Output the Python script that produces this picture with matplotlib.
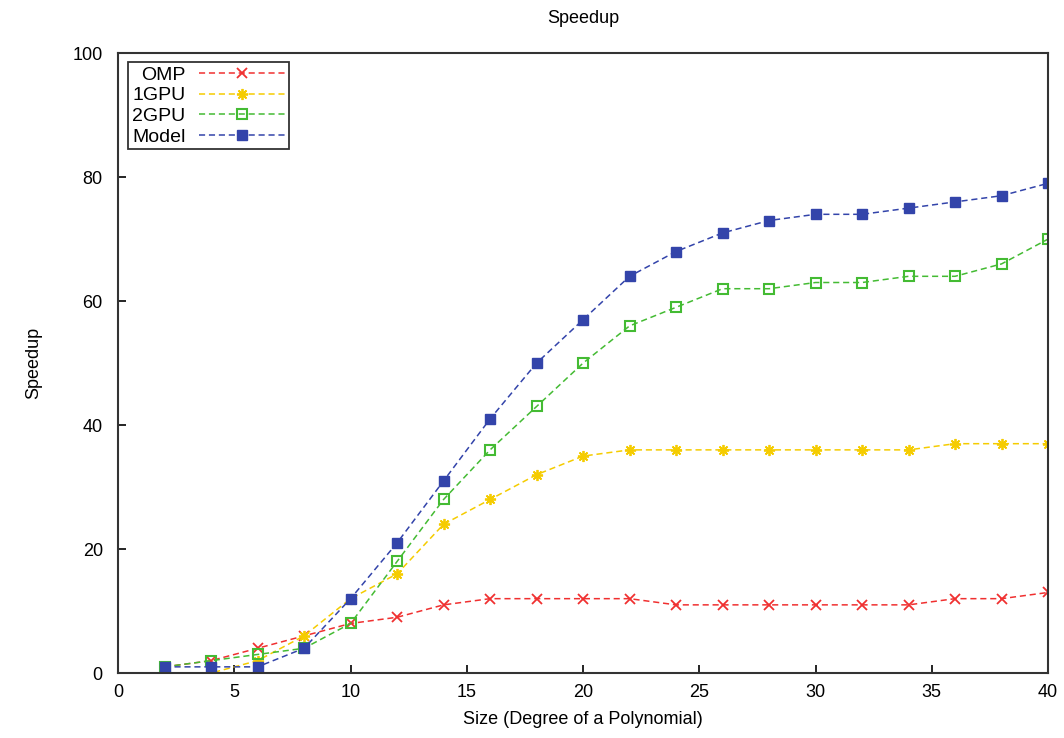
import matplotlib
matplotlib.use("Agg")
import matplotlib.pyplot as plt

plt.rcParams["font.family"] = ["Liberation Sans", "DejaVu Sans"]
plt.rcParams["font.size"] = 13

# degree of the polynomial
sizes = [2, 4, 6, 8, 10, 12, 14, 16, 18, 20, 22, 24, 26, 28, 30, 32, 34, 36, 38, 40]

omp = [1, 2, 4, 6, 8, 9, 11, 12, 12, 12, 12, 11, 11, 11, 11, 11, 11, 12, 12, 13]
gpu1 = [0, 0, 2, 6, 12, 16, 24, 28, 32, 35, 36, 36, 36, 36, 36, 36, 36, 37, 37, 37]
gpu2 = [1, 2, 3, 4, 8, 18, 28, 36, 43, 50, 56, 59, 62, 62, 63, 63, 64, 64, 66, 70]
model = [1, 1, 1, 4, 12, 21, 31, 41, 50, 57, 64, 68, 71, 73, 74, 74, 75, 76, 77, 79]

fig = plt.figure(figsize=(10.64, 7.38), dpi=100)
ax = fig.add_axes([0.111, 0.088, 0.874, 0.840])

dash = (0, (4, 2.5))
ax.plot(sizes, omp, ls=dash, color="#f03030", lw=1.1, marker="x", ms=6.5, mew=1.3, label="OMP")
ax.plot(sizes, gpu1, ls=dash, color="#f5cc00", lw=1.1, marker=(8, 2, 0), ms=8, mew=1.3, label="1GPU")
ax.plot(sizes, gpu2, ls=dash, color="#44bb33", lw=1.1, marker="s", ms=7, mfc="none", mew=1.5, label="2GPU")
ax.plot(sizes, model, ls=dash, color="#3344aa", lw=1.1, marker="s", ms=7, mec="#3344aa", label="Model")

ax.set_xlim(0, 40)
ax.set_ylim(0, 100)
ax.set_xticks(range(0, 41, 5))
ax.set_yticks(range(0, 101, 20))
ax.tick_params(axis="y", direction="in", length=6, width=1.2, pad=11)
ax.tick_params(axis="x", direction="in", length=6, width=1.2, pad=8)
for s in ax.spines.values():
    s.set_linewidth(1.5)
    s.set_color("#333333")

ax.set_title("Speedup", fontsize=13, pad=22)
ax.set_xlabel("Size (Degree of a Polynomial)", labelpad=7)
ax.set_ylabel("Speedup", labelpad=22)

leg = ax.legend(loc="upper left", markerfirst=False, handlelength=4.4, fancybox=False,
                fontsize=14, borderpad=0.2, labelspacing=0.15, handletextpad=0.7,
                bbox_to_anchor=(0.011, 0.985), borderaxespad=0)
leg.get_frame().set_edgecolor("black")
leg.get_frame().set_linewidth(1.3)
for t in leg.get_texts():
    t.set_horizontalalignment("right")

fig.savefig("out.png", dpi=100)
